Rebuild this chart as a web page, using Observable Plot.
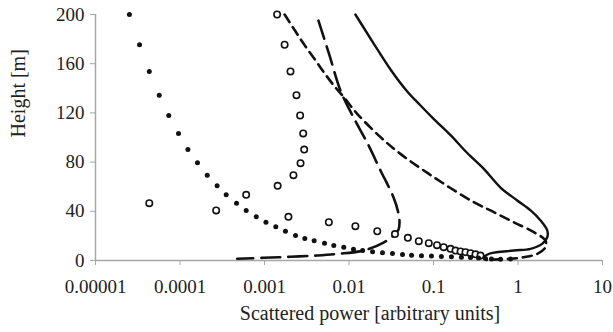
<!DOCTYPE html>
<html>
<head>
<meta charset="utf-8">
<script src="https://cdn.jsdelivr.net/npm/d3@7"></script>
<script src="https://cdn.jsdelivr.net/npm/@observablehq/plot@0.6"></script>
<style>
  html, body { margin: 0; padding: 0; background: #fff; }
  #chart svg, #chart svg text { font-family: "Liberation Serif", "Times New Roman", serif !important; }
</style>
</head>
<body>
<div id="chart"></div>
<script>
// ---- data ----
const xTicks = [1e-5, 1e-4, 1e-3, 1e-2, 1e-1, 1, 10];
const xTickLabels = ["0.00001", "0.0001", "0.001", "0.01", "0.1", "1", "10"];
const yTicks = [0, 40, 80, 120, 160, 200];

// filled dots
const dotsHeight = [200, 175.4, 153.7, 134.4, 117.9, 103.3, 90.2, 79.4, 69.4, 60.7,
  53.4, 46.6, 40.7, 35.5, 31.1, 27.4, 23.8, 20.3, 17.9, 16,
  14.1, 12.2, 10.8, 9.2, 8.1, 7.2, 6.4, 5.6, 4.9, 4.3,
  3.9, 3.6, 3.3, 3.0, 2.7, 2.4, 2.0, 1.6, 1.3, 1.1, 1.3];
const dotsPower = [2.52e-5, 3.32e-5, 4.33e-5, 5.68e-5, 7.36e-5, 9.6e-5, 1.24e-4, 1.61e-4, 2.10e-4, 2.75e-4,
  3.52e-4, 4.67e-4, 6.07e-4, 7.98e-4, 1.04e-3, 1.36e-3, 1.77e-3, 2.33e-3, 3.0e-3, 3.87e-3,
  5.13e-3, 6.61e-3, 8.67e-3, 0.0113, 0.0145, 0.0190, 0.0249, 0.0327, 0.0430, 0.0550,
  0.0721, 0.0946, 0.124, 0.163, 0.214, 0.274, 0.341, 0.412, 0.485, 0.621, 0.815];

// open circles
const circlesHeight = [200, 175.4, 153.7, 134.4, 117.9, 103.3, 90.2, 79.1, 69.4, 60.7,
  53.4, 46.6, 40.7, 35.5, 31.1, 27.9, 23.8, 21.5, 18.4, 15.7,
  14.1, 12.5, 10.8, 9.5, 8.1, 7.4, 6.8, 5.9, 5.0, 4.0];
const circlesPower = [1.41e-3, 1.73e-3, 2.03e-3, 2.39e-3, 2.64e-3, 2.87e-3, 2.95e-3, 2.67e-3, 2.20e-3, 1.43e-3,
  6.07e-4, 4.33e-5, 2.68e-4, 1.92e-3, 5.77e-3, 0.0119, 0.0216, 0.0350, 0.0497, 0.0670,
  0.0879, 0.110, 0.132, 0.159, 0.182, 0.209, 0.239, 0.274, 0.314, 0.360];

// solid line
const solidHeight = [200, 176.4, 155.3, 137.4, 126.0, 115.0, 101.9, 87.4, 74.5, 59.3, 48.8, 40.7, 32.5, 24.4, 18.9, 13.5, 9.5, 8.1, 5.8, 3.0];
const solidPower = [0.0119, 0.0196, 0.0310, 0.0489, 0.0702, 0.101, 0.159, 0.251, 0.394, 0.621, 0.98, 1.41, 1.85, 2.22, 2.22, 1.93, 1.41, 0.891, 0.47, 0.39];

// short-dashed line
const shortHeight = [200, 176, 162.6, 153, 142.3, 132.8, 119.3, 100.3, 86.7, 67.7, 47.4, 39.3, 31.1, 23, 16.3, 10.8, 5.4, 2.7, 1.4, 0.5];
const shortPower = [1.73e-3, 2.92e-3, 4.02e-3, 5.04e-3, 6.61e-3, 8.67e-3, 0.0125, 0.0236, 0.0406, 0.101, 0.300, 0.518, 0.891, 1.54, 2.11, 2.11, 1.69, 1.17, 0.815, 0.42];

// long-dashed line
const longHeight = [195, 166.7, 138.2, 116.3, 95.1, 73.2, 51.2, 38.2, 31, 25, 20.3, 14.6, 8.1, 5.4, 4.1, 3.0, 2.2, 1.4];
const longPower = [4.35e-3, 5.88e-3, 7.92e-3, 0.0113, 0.0166, 0.0236, 0.0337, 0.0385, 0.0396, 0.0385, 0.0337, 0.0256, 0.0149, 7.31e-3, 4.21e-3, 2.03e-3, 9.73e-4, 4.75e-4];

const toRows = (hs, ps) => hs.map((h, i) => ({h, p: ps[i]}));
const dots = toRows(dotsHeight, dotsPower);
const circles = toRows(circlesHeight, circlesPower);
const solid = toRows(solidHeight, solidPower);
const shortDash = toRows(shortHeight, shortPower);
const longDash = toRows(longHeight, longPower);

const font = "Liberation Serif";
const gray = "#a6a6a6";

const chart = Plot.plot({
  width: 613,
  height: 332,
  marginLeft: 95,
  marginRight: 11,
  marginTop: 14,
  marginBottom: 72,
  style: {fontFamily: font, color: "#222", background: "#fff"},
  x: {type: "log", domain: [1e-5, 10]},
  y: {domain: [0, 200]},
  marks: [
    Plot.ruleX([1e-5], {stroke: gray, strokeWidth: 1.5}),
    Plot.ruleY([0], {stroke: gray, strokeWidth: 1.5}),
    Plot.axisX({ticks: xTicks, tickFormat: d => xTickLabels[xTicks.indexOf(d)], tickSize: 5, tickPadding: 14, stroke: gray, fontSize: 19, fontFamily: font, label: null}),
    Plot.axisY({ticks: yTicks, tickSize: 5, tickPadding: 6, stroke: gray, fontSize: 19, fontFamily: font, label: null}),
    Plot.line(longDash, {x: "p", y: "h", stroke: "#111", strokeWidth: 2.6, strokeDasharray: "19,8", curve: "catmull-rom"}),
    Plot.line(shortDash, {x: "p", y: "h", stroke: "#111", strokeWidth: 2.6, strokeDasharray: "9,6", curve: "catmull-rom"}),
    Plot.line(solid, {x: "p", y: "h", stroke: "#111", strokeWidth: 2.4, curve: "catmull-rom"}),
    Plot.dot(circles, {x: "p", y: "h", r: 3.2, stroke: "#111", strokeWidth: 1.6, fill: "white"}),
    Plot.dot(dots, {x: "p", y: "h", r: 2.5, fill: "#111", stroke: "none"}),
    Plot.text(["Height [m]"], {frameAnchor: "left", dx: -77, rotate: -90, text: d => d, fontSize: 20, fontFamily: font, fill: "#222"}),
    Plot.text(["Scattered power [arbitrary units]"], {frameAnchor: "bottom", dx: 21, dy: 59, text: d => d, fontSize: 20, fontFamily: font, fill: "#222"})
  ]
});
document.getElementById("chart").appendChild(chart);
</script>
</body>
</html>
